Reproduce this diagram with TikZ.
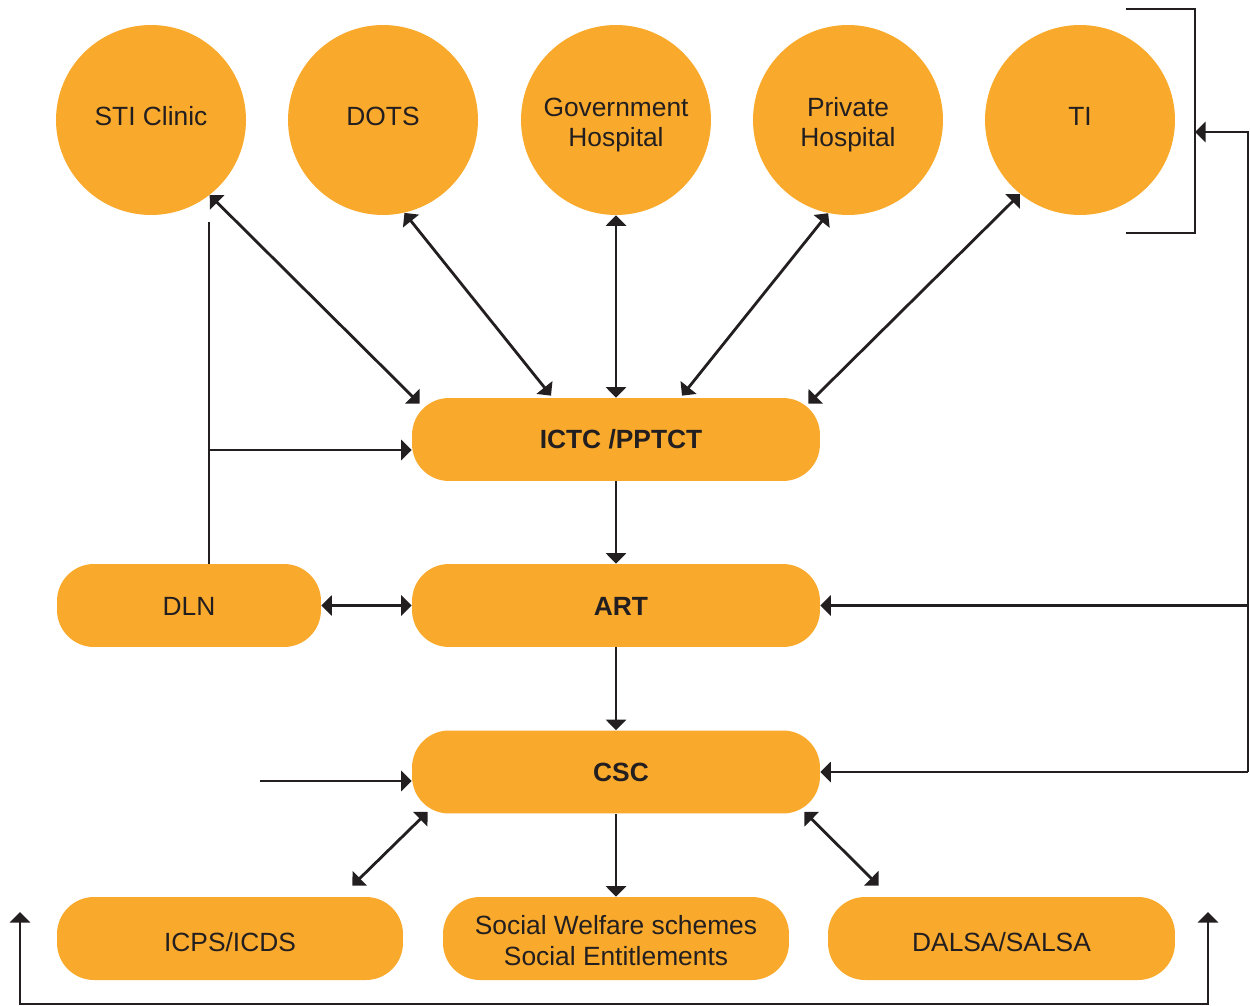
\documentclass[tikz,border=0pt]{standalone}
\usepackage{fontspec}
\setmainfont{Liberation Sans}
\usetikzlibrary{arrows.meta,calc}
\definecolor{orng}{HTML}{F9A92B}
\definecolor{ink}{HTML}{231F20}
\begin{document}
\begin{tikzpicture}[x=0.02cm,y=-0.02cm,
  lbl/.style={align=center,font=\fontsize{15}{17.5}\selectfont,text=ink},
  hub/.style={circle,fill=orng,minimum size=3.8cm,inner sep=0pt,lbl},
  oneline/.style={text height=0.4cm,text depth=0.16cm},
  pill/.style={rectangle,rounded corners=0.74cm,fill=orng,minimum height=1.66cm,
    inner sep=0pt,lbl},
  mid/.style={text height=0.4cm,text depth=0.02cm},
  low/.style={text height=0.55cm,text depth=0.02cm},
  link/.style={draw=ink,line width=1.6pt},
  tip/.style={link,-{Triangle[length=0.21cm,width=0.4cm]}},
  both/.style={link,{Triangle[length=0.21cm,width=0.4cm]}-{Triangle[length=0.21cm,width=0.4cm]}}]
\useasboundingbox (0,0) rectangle (1250,1006);

% service points
\node[hub,oneline] (sti) at (151,120) {STI Clinic};
\node[hub,oneline] (dots) at (383,120) {DOTS};
\node[hub] (gov) at (616,120) {\rule{0pt}{0.57cm}Government\\Hospital};
\node[hub] (pvt) at (848,120) {\rule{0pt}{0.57cm}Private\\Hospital};
\node[hub,oneline] (ti) at (1080,120) {TI};

% central chain (bold labels sit a little right of centre)
\node[pill,mid,minimum width=8.16cm] (ictc) at (616,439.5) {\hspace*{0.2cm}\bfseries ICTC /PPTCT};
\node[pill,mid,minimum width=8.16cm] (art) at (616,605.5) {\hspace*{0.2cm}\bfseries ART};
\node[pill,mid,minimum width=8.16cm] (csc) at (616,772) {\hspace*{0.2cm}\bfseries CSC};
\node[pill,mid,minimum width=5.28cm] (dln) at (189,605.5) {DLN};

% linkages at the bottom
\node[pill,low,minimum width=6.92cm] (icps) at (230,938.5) {ICPS/ICDS};
\node[pill,minimum width=6.92cm] (soc) at (616,938.5)
  {\rule{0pt}{0.46cm}Social Welfare schemes\\Social Entitlements};
\node[pill,low,minimum width=6.94cm] (dalsa) at (1001.5,938.5) {DALSA/SALSA};

% helper points
\coordinate (dlntop) at (209,222);
\coordinate (dlnjoin) at (209,450);
\coordinate (cscin) at (260,781);
\coordinate (bt1) at (1126,9);
\coordinate (bt2) at (1195,9);
\coordinate (bb2) at (1195,233);
\coordinate (bb1) at (1126,233);
\coordinate (brk) at (1195,132);
\coordinate (rx) at (1248,132);
\coordinate (bl) at (20,912);
\coordinate (br) at (1208,912);
\coordinate (bly) at (20,1004);

% circles to ICTC
\draw[both] (sti.-52) -- ($(ictc.north west)+(8,6)$);
\draw[both] (dots.-77) -- ($(ictc.north)+(-65,-2)$);
\draw[both] (gov.south) -- (ictc.north);
\draw[both] (pvt.-102) -- ($(ictc.north)+(66,-2)$);
\draw[both] (ti.-129) -- ($(ictc.north east)+(-12,6)$);

% chain
\draw[tip] (ictc.south) -- (art.north);
\draw[tip] (art.south) -- (csc.north);
\draw[tip] (csc.south) -- (soc.north);
\draw[both] (dln.east) -- (art.west);
\draw[both] ($(csc.south west)+(16,-2)$) -- ($(icps.north east)+(-51,-11)$);
\draw[both] ($(csc.south east)+(-16,-2)$) -- ($(dalsa.north west)+(51,-11)$);

% DLN feed into ICTC
\draw[link] (dlntop) -- (dln.north -| dlntop);
\draw[tip] (dlnjoin) -- (dlnjoin -| ictc.west);
\draw[tip] (cscin) -- (cscin -| csc.west);

% bracket round TI and return line on the right
\draw[link] (bt1) -- (bt2) -- (bb2) -- (bb1);
\draw[tip] (rx |- csc.east) -- (rx) -- (brk);
\draw[tip] (rx |- csc.east) -- (csc.east);
\draw[tip] (rx |- art.east) -- (art.east);

% bottom loop
\draw[both] (bl) -- (bly) -- (bly -| br) -- (br);
\end{tikzpicture}
\end{document}
